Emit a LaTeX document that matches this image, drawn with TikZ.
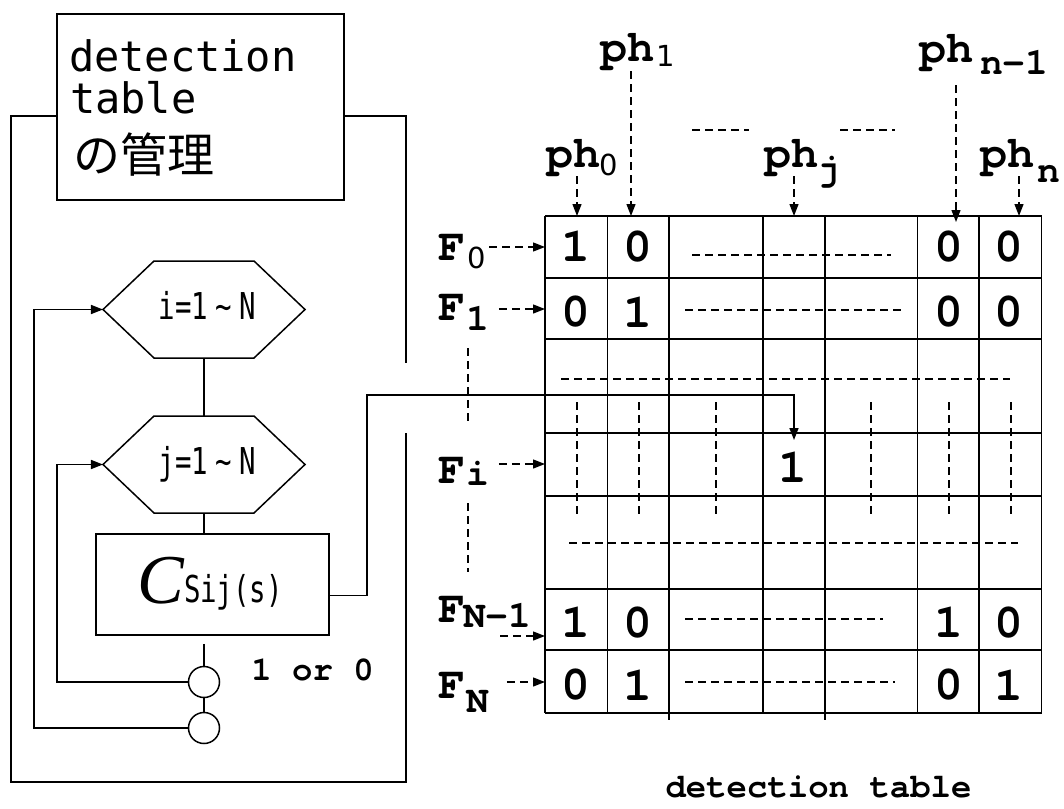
\documentclass[tikz,border=0pt]{standalone}
\usepackage{fontspec}
\usetikzlibrary{arrows.meta}
\newfontfamily\gothW{DejaVu Sans Mono}
\newfontfamily\gothN[FakeStretch=0.74]{DejaVu Sans Mono}
\newfontfamily\sansS{DejaVu Sans}
\newfontfamily\jpf{Noto Sans CJK JP}
\newfontfamily\curb{texgyrecursor-bold.otf}
\newfontfamily\cserif{Liberation Serif}
\newcommand\fTop{\gothW\fontsize{42bp}{42bp}\selectfont}
\newcommand\fJp{\jpf\fontsize{47bp}{47bp}\selectfont}
\newcommand\fHex{\gothN\fontsize{37bp}{37bp}\selectfont}
\newcommand\fLab{\curb\fontsize{45bp}{45bp}\selectfont}
\newcommand\fSub{\curb\fontsize{38bp}{38bp}\selectfont}
\newcommand\fSubG{\sansS\fontsize{29bp}{29bp}\selectfont}
\newcommand\fDig{\curb\fontsize{48bp}{48bp}\selectfont}
\newcommand\fSmall{\curb\fontsize{34bp}{34bp}\selectfont}
\newcommand\fC{\cserif\itshape\fontsize{70bp}{70bp}\selectfont}
\begin{document}
\begin{tikzpicture}[x=1bp,y=-1bp,
  ln/.style={line width=1.5bp},
  dsh/.style={line width=1.3bp, dash pattern=on 8bp off 5bp},
  arr/.style={-{Triangle[length=12bp,width=9bp]}},
  txt/.style={inner sep=0, outer sep=0},
  hexhold/.style={inner sep=0, outer sep=0, minimum width=202bp, minimum height=97bp},
  lab/.style={txt, anchor=base west, font=\fLab},
  sub/.style={txt, anchor=base west, font=\fSub},
  subg/.style={txt, anchor=base west, font=\fSubG},
  dig/.style={txt, font=\fDig}]
\useasboundingbox (0,0) rectangle (1064,809);

% ---- management box and outer loop ----
\node[draw, ln, inner sep=0, minimum width=287bp, minimum height=186bp] (mgmt) at (200.5,107) {};
\node[txt, anchor=base west, font=\fTop] (m1) at (69,72) {detection};
\node[txt, anchor=base west, font=\fTop] (m2) at (70,113) {table};
\node[txt, anchor=base west, font=\fJp] (m3) at (73,172) {の管理};
\coordinate (ytop) at (0,116);
\coordinate (gapTop) at (406,363);
\coordinate (gapBot) at (406,433);
\draw[ln] (mgmt.west |- ytop) -- (11,116) -- (11,782) -- (406,782) -- (gapBot);
\draw[ln] (mgmt.east |- ytop) -| (gapTop);

% ---- loop hexagons ----
\node[hexhold] (h1) at (204,309.5) {};
\draw[ln] (h1.west) -- ([xshift=51bp]h1.north west) -- ([xshift=-51bp]h1.north east) -- (h1.east)
  -- ([xshift=-51bp]h1.south east) -- ([xshift=51bp]h1.south west) -- cycle;
\node[txt, anchor=base, font=\fHex] (h1t) at (207.5,319) {i=1\hspace{7bp}\textasciitilde\hspace{8bp}N};
\node[hexhold] (h2) at (204,464.5) {};
\draw[ln] (h2.west) -- ([xshift=51bp]h2.north west) -- ([xshift=-51bp]h2.north east) -- (h2.east)
  -- ([xshift=-51bp]h2.south east) -- ([xshift=51bp]h2.south west) -- cycle;
\node[txt, anchor=base, font=\fHex] (h2t) at (207.5,474) {j=1\hspace{7bp}\textasciitilde\hspace{8bp}N};

% ---- comparison box ----
\node[draw, ln, inner sep=0, minimum width=233bp, minimum height=101bp] (cbox) at (212.5,584.5) {};
\node[txt, anchor=base west, font=\fC] (cC) at (137,603) {C};
\node[txt, anchor=base west, font=\fHex] (cS) at (184,602) {Sij(s)};

% ---- loop ends ----
\node[draw, ln, circle, inner sep=0, minimum size=31bp] (c1) at (204,682) {};
\node[draw, ln, circle, inner sep=0, minimum size=31bp] (c2) at (204,728) {};
\node[txt, anchor=base, font=\fSmall] (res) at (312.5,680) {1 or 0};

\draw[ln] (h1.south) -- (h2.north);
\draw[ln] (h2.south) -- (h2.south |- cbox.north);
\draw[ln, shorten <=8bp] (c1.north |- cbox.south) -- (c1.north);
\draw[ln] (c1.south) -- (c2.north);
\draw[ln, arr] (c1.west) -- (57,682) |- (h2.west);
\draw[ln, arr] (c2.west) -- (34,728) |- (h1.west);

% ---- result written into the table ----
\coordinate (hit) at (794,440);
\draw[ln, arr] ([yshift=-11bp]cbox.east) -| (367,395) -| (hit);

% ---- detection table grid ----
\foreach \x in {545,607.5,669,763,825,917.5,979,1041.5}
  \draw[ln] (\x,216) -- (\x,713);
\foreach \y in {216,278,339,433,496,589,650,713}
  \draw[ln] (545,\y) -- (1041.5,\y);
\draw[ln] (669,713) -- (669,720);
\draw[ln] (825,713) -- (825,720);

% ---- cell values ----
\node[dig] (a00) at (576,246.5) {1};
\node[dig] (a01) at (638,246.5) {0};
\node[dig] (a05) at (948.5,246.5) {0};
\node[dig] (a06) at (1009,246.5) {0};
\node[dig] (a10) at (576,312) {0};
\node[dig] (a11) at (638,312) {1};
\node[dig] (a15) at (948.5,312) {0};
\node[dig] (a16) at (1009,312) {0};
\node[dig] (ai3) at (792.5,467.5) {1};
\node[dig] (am0) at (576,622.5) {1};
\node[dig] (am1) at (638,622.5) {0};
\node[dig] (am5) at (948.5,622.5) {1};
\node[dig] (am6) at (1009,622.5) {0};
\node[dig] (aN0) at (576,685) {0};
\node[dig] (aN1) at (638,685) {1};
\node[dig] (aN5) at (948.5,685) {0};
\node[dig] (aN6) at (1009,685) {1};

% ---- elided cells ----
\draw[dsh] (692,255) -- (891,255);
\draw[dsh] (685,310) -- (902,310);
\draw[dsh] (685,619) -- (883,619);
\draw[dsh] (685,682) -- (895,682);
\draw[dsh] (561,379) -- (1010,379);
\draw[dsh] (569,543) -- (1018,543);
\foreach \x in {577,639,716,871,949,1011}
  \draw[dsh] (\x,402) -- (\x,516);
\draw[dsh] (692,130) -- (749,130);
\draw[dsh] (840,130) -- (895,130);
\draw[dsh] (468,348) -- (468,423);
\draw[dsh] (468,503) -- (468,572);

% ---- column labels ----
\node[lab] (ph1) at (600,62) {ph};
\node[subg] (ph1s) at (656,67) {1};
\node[lab] (phm) at (919,63) {ph};
\node[sub] (phms) at (980,75) {n-1};
\node[lab] (ph0) at (546,167) {ph};
\node[subg] (ph0s) at (599,175) {0};
\node[lab] (phj) at (764,167) {ph};
\node[sub] (phjs) at (817,180) {j};
\node[lab] (phn) at (980,167) {ph};
\node[sub] (phns) at (1037,182) {n};

\coordinate (t0) at (577,216);
\coordinate (t1) at (631,216);
\coordinate (tj) at (794,216);
\coordinate (tm) at (956,222);
\coordinate (tn) at (1019,216);
\draw[dsh, arr] (ph0.south -| t0) -- (t0);
\draw[dsh, arr] (ph1.south -| t1) -- (t1);
\draw[dsh, arr] (phj.south -| tj) -- (tj);
\draw[dsh, arr, shorten <=10bp] (phms.south -| tm) -- (tm);
\draw[dsh, arr] (phn.south -| tn) -- (tn);

% ---- row labels ----
\node[lab] (F0) at (438,260) {F};
\node[subg] (F0s) at (467,268) {0};
\node[lab] (F1) at (438,320) {F};
\node[sub] (F1s) at (466,330) {1};
\node[lab] (Fi) at (438,483) {F};
\node[sub] (Fis) at (466,485) {i};
\node[lab] (Fm) at (438,622) {F};
\node[sub] (Fms) at (463,627) {N-1};
\node[lab] (FN) at (438,698) {F};
\node[sub] (FNs) at (466,712) {N};

\coordinate (e0) at (545,247);
\coordinate (e1) at (545,309);
\coordinate (ei) at (545,464);
\coordinate (em) at (545,636);
\coordinate (eN) at (545,682);
\coordinate (sm) at (500,636);
\draw[dsh, arr, shorten <=4bp] (F0s.east |- e0) -- (e0);
\draw[dsh, arr, shorten <=10bp] (F1s.east |- e1) -- (e1);
\draw[dsh, arr, shorten <=10bp] (Fis.east |- ei) -- (ei);
\draw[dsh, arr] (sm) -- (em);
\draw[dsh, arr, shorten <=18bp] (FNs.east |- eN) -- (eN);

% ---- caption ----
\node[txt, anchor=base, font=\fSmall] (cap) at (818.5,797) {detection table};
\end{tikzpicture}
\end{document}
